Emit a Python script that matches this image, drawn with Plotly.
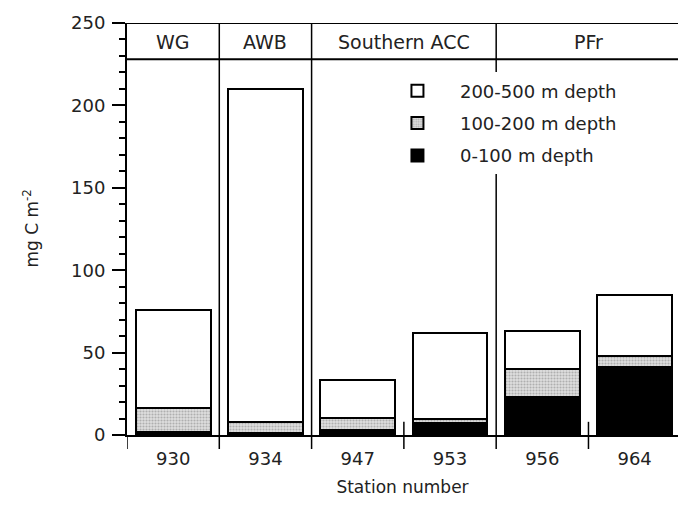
import plotly.graph_objects as go

stations = ["930", "934", "947", "953", "956", "964"]
layer_0_100 = [2, 1.5, 3, 7, 23, 41]
layer_100_200 = [14.2, 6.4, 7.5, 2.7, 16.8, 7]
layer_200_500 = [59.8, 202.1, 22.9, 52, 23.2, 37]
regions = ["WG", "AWB", "Southern ACC", "PFr"]
region_centers = [0, 1, 2.5, 4.5]
region_bounds = [0.5, 1.5, 3.5]
sub_bounds = [2.5, 4.5]

FONT = "DejaVu Sans, Verdana, sans-serif"
TXT = "#222222"
xpos = list(range(len(stations)))

fig = go.Figure()
fig.add_trace(go.Bar(x=xpos, y=layer_0_100, name="0-100 m depth", width=0.81,
                     marker=dict(color="#000000", line=dict(color="#000", width=2)),
                     legendgroup="a", legendrank=3))
fig.add_trace(go.Bar(x=xpos, y=layer_100_200, name="100-200 m depth", width=0.81,
                     marker=dict(color="#d6d6d6", line=dict(color="#000", width=2),
                                 pattern=dict(shape=".", fgcolor="#808080", bgcolor="#dedede",
                                              size=3, solidity=0.4)),
                     legendgroup="b", legendrank=2))
fig.add_trace(go.Bar(x=xpos, y=layer_200_500, name="200-500 m depth", width=0.81,
                     marker=dict(color="#ffffff", line=dict(color="#000", width=2)),
                     legendgroup="c", legendrank=1))

shapes = []
xr = [-0.5, 5.47]
shapes.append(dict(type="line", xref="x", yref="y", x0=xr[0], x1=xr[1], y0=250, y1=250,
                   line=dict(color="#000", width=2)))
shapes.append(dict(type="line", xref="x", yref="y", x0=xr[0], x1=xr[1], y0=228, y1=228,
                   line=dict(color="#000", width=2)))
for b in region_bounds:
    shapes.append(dict(type="line", xref="x", yref="y", x0=b, x1=b, y0=0, y1=250,
                       line=dict(color="#000", width=1.5), layer="below"))
for b in sub_bounds:
    shapes.append(dict(type="line", xref="x", yref="y", x0=b, x1=b, y0=0, y1=8,
                       line=dict(color="#000", width=1.5)))
for b in [-0.5, 0.5, 1.5, 2.5, 3.5, 4.5]:
    shapes.append(dict(type="line", xref="x", yref="y domain", x0=b, x1=b, y0=0, y1=-0.034,
                       line=dict(color="#000", width=1.5)))

annotations = []
for r, c in zip(regions, region_centers):
    annotations.append(dict(x=c, y=238.5, xref="x", yref="y", text=r, showarrow=False,
                            font=dict(size=19, color=TXT, family=FONT)))
annotations.append(dict(x=-0.175, y=0.5, xref="paper", yref="paper", xanchor="center",
                        yanchor="middle", text="mg C m<sup>-2</sup>", textangle=-90,
                        showarrow=False, font=dict(size=17, color=TXT, family=FONT)))

fig.update_layout(
    width=678, height=515,
    margin=dict(l=127, r=0, t=23, b=80),
    paper_bgcolor="white", plot_bgcolor="white",
    barmode="stack", bargap=0,
    font=dict(family=FONT, size=17, color=TXT),
    shapes=shapes, annotations=annotations,
    legend=dict(x=0.45, y=0.88, xanchor="left", yanchor="top",
                bgcolor="white", traceorder="grouped", tracegroupgap=6,
                font=dict(size=18, color=TXT, family=FONT), itemwidth=75),
    xaxis=dict(range=xr, tickmode="array", tickvals=xpos, ticktext=stations,
               showline=True, linecolor="#000", linewidth=2, showgrid=False, zeroline=False,
               ticks="", tickfont=dict(size=18), ticklabelstandoff=6,
               title=dict(text="Station number", font=dict(size=17), standoff=14)),
    yaxis=dict(range=[0, 250], tickvals=[0, 50, 100, 150, 200, 250],
               showline=True, linecolor="#000", linewidth=2, showgrid=False, zeroline=False,
               ticks="outside", ticklen=13, tickwidth=2, tickcolor="#000",
               minor=dict(dtick=10, ticks="outside", ticklen=6, tickwidth=1.5, tickcolor="#000"),
               tickfont=dict(size=18), ticklabelstandoff=3),
)

fig.write_html("out.html")
